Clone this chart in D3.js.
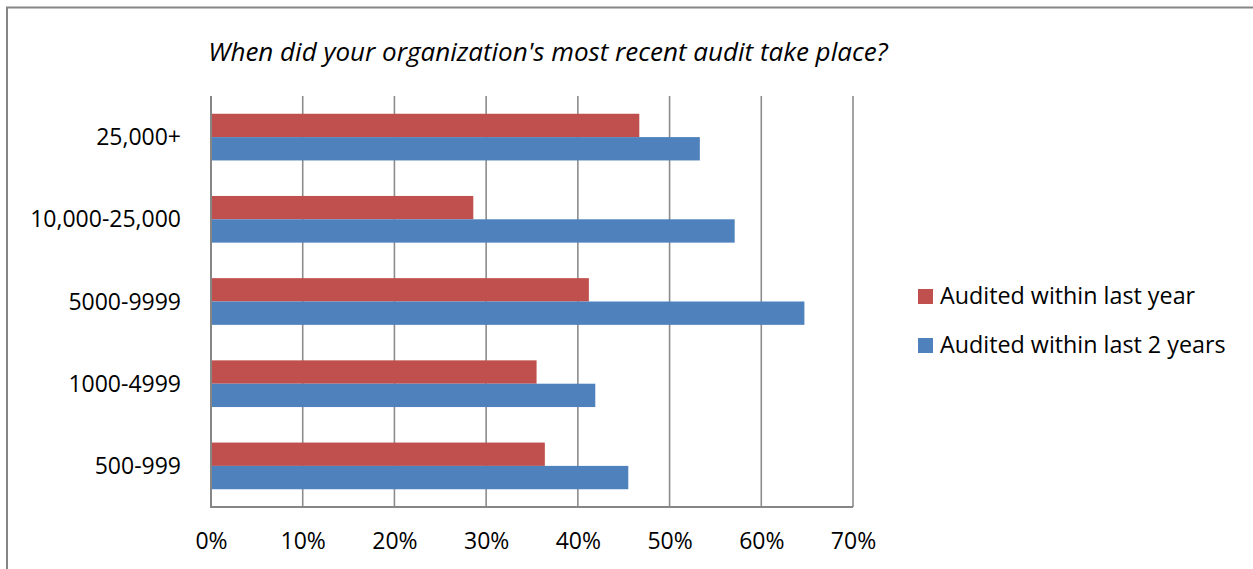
<!DOCTYPE html>
<html>
<head>
<meta charset="utf-8">
<script src="https://cdn.jsdelivr.net/npm/d3@7"></script>
<style>
  html, body { margin: 0; padding: 0; background: #fff; }
  svg { display: block; }
  text { font-family: "Open Sans", sans-serif; fill: #000; }
</style>
</head>
<body>
<svg id="chart" width="1253" height="569"></svg>
<script>
const title = "When did your organization's most recent audit take place?";
const categories = ["25,000+", "10,000-25,000", "5000-9999", "1000-4999", "500-999"];
const seriesNames = ["Audited within last year", "Audited within last 2 years"];
const lastYear = [0.467, 0.286, 0.412, 0.355, 0.364];
const last2Years = [0.533, 0.571, 0.647, 0.419, 0.455];
const xTicks = [0, 0.1, 0.2, 0.3, 0.4, 0.5, 0.6, 0.7];
const colors = ["#C0504D", "#4F81BD"];

const svg = d3.select("#chart");
const W = 1253, H = 569;
const plot = { left: 211, right: 853, top: 96, bottom: 507 };

// outer border (extends beyond right/bottom edges)
svg.append("rect")
  .attr("x", 7).attr("y", 7.5)
  .attr("width", W + 20).attr("height", H + 20)
  .attr("fill", "#fff").attr("stroke", "#868686").attr("stroke-width", 2);

const x = d3.scaleLinear().domain([0, 0.7]).range([plot.left, plot.right]);
const y = d3.scaleBand().domain(categories).range([plot.top, plot.bottom])
  .paddingInner(0.432).paddingOuter(0.216);
const ySub = d3.scaleBand().domain(seriesNames).range([0, y.bandwidth()]);

// gridlines
svg.append("g").selectAll("line").data(xTicks.slice(1)).join("line")
  .attr("x1", d => x(d)).attr("x2", d => x(d))
  .attr("y1", plot.top).attr("y2", plot.bottom)
  .attr("stroke", "#8c8c8c").attr("stroke-width", 1.6);

// bars
const data = [lastYear, last2Years];
seriesNames.forEach((s, si) => {
  svg.append("g").selectAll("rect").data(categories).join("rect")
    .attr("x", x(0))
    .attr("y", c => y(c) + ySub(s))
    .attr("width", (c, i) => x(data[si][i]) - x(0))
    .attr("height", ySub.bandwidth())
    .attr("fill", colors[si]);
});

// axes lines
svg.append("line").attr("x1", x(0)).attr("x2", x(0)).attr("y1", plot.top).attr("y2", plot.bottom)
  .attr("stroke", "#868686").attr("stroke-width", 2);
svg.append("line").attr("x1", x(0) - 1).attr("x2", plot.right).attr("y1", plot.bottom).attr("y2", plot.bottom)
  .attr("stroke", "#868686").attr("stroke-width", 2);

// x axis labels
const xAxis = d3.axisBottom(x).tickValues(xTicks).tickFormat(d3.format(".0%")).tickSize(0).tickPadding(0);
const gx = svg.append("g").attr("transform", `translate(0,${plot.bottom})`).call(xAxis);
gx.select(".domain").remove();
gx.selectAll("text").attr("font-size", 23).attr("font-family", "Open Sans")
  .attr("dy", null).attr("y", 42);

// y axis labels
const yAxis = d3.axisLeft(y).tickSize(0).tickPadding(0);
const gy = svg.append("g").attr("transform", `translate(181,0)`).call(yAxis);
gy.select(".domain").remove();
gy.selectAll("text").attr("font-size", 23).attr("font-family", "Open Sans")
  .attr("x", 0).attr("dy", "0.35em");

// title
svg.append("text").attr("x", 548).attr("y", 61).attr("text-anchor", "middle")
  .attr("font-size", 26).attr("font-style", "italic").text(title);

// legend
const legend = svg.append("g");
seriesNames.forEach((s, i) => {
  const ly = 296 + i * 49;
  legend.append("rect").attr("x", 918).attr("y", ly - 7).attr("width", 15).attr("height", 15).attr("fill", colors[i]);
  legend.append("text").attr("x", 940).attr("y", ly).attr("dy", "0.35em")
    .attr("font-size", 23.3).text(s);
});
</script>
</body>
</html>
